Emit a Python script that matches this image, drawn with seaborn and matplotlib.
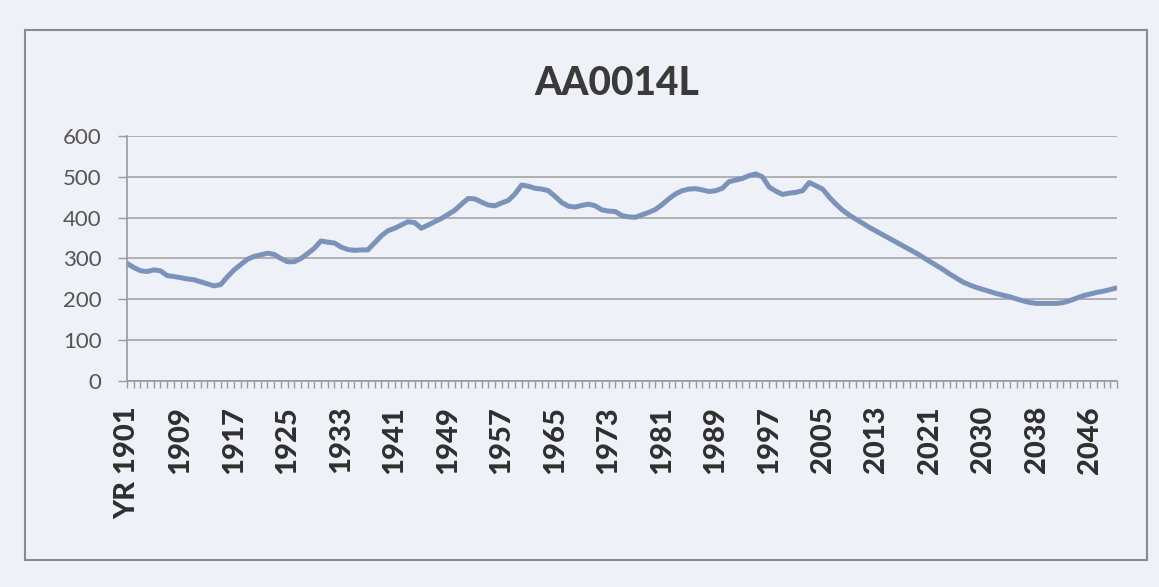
import matplotlib
matplotlib.use("Agg")
import matplotlib.pyplot as plt
from matplotlib.patches import Rectangle
import seaborn as sns
import pandas as pd

# Category labels (years); one year (2022) absent in the source chart
years = [f"{y}" for y in range(1901, 2022)] + [f"{y}" for y in range(2023, 2051)]
years[0] = "YR 1901"

values = [
    288, 278, 270, 268, 272, 270, 258, 256, 253, 250,
    248, 243, 238, 233, 236, 255, 272, 285, 298, 305,
    309, 313, 310, 300, 292, 292, 300, 312, 325, 343,
    340, 338, 328, 322, 320, 321, 321, 338, 355, 368,
    374, 382, 390, 388, 374, 382, 390, 398, 408, 418,
    433, 447, 446, 438, 431, 429, 436, 442, 458, 480,
    477, 472, 470, 466, 452, 437, 428, 426, 430, 433,
    429, 419, 416, 415, 405, 402, 401, 407, 413, 420,
    432, 446, 458, 466, 470, 471, 468, 464, 466, 472,
    488, 492, 496, 503, 507, 500, 475, 465, 457, 460,
    462, 466, 486, 478, 470, 450, 433, 418, 406, 396,
    386, 376, 367, 358, 349, 340, 331, 322, 313, 303,
    293, 283, 273, 262, 252, 242, 235, 229, 224, 219,
    214, 210, 206, 201, 196, 192, 190, 190, 190, 190,
    192, 197, 203, 209, 213, 217, 220, 224, 228,
]

title = "AA0014L"
y_ticks = [0, 100, 200, 300, 400, 500, 600]

df = pd.DataFrame({"pos": range(len(values)), "value": values, "year": years})

sns.set_theme(style="white")
plt.rcParams["font.family"] = ["Lato", "DejaVu Sans"]

bg = "#eff1f8"
fig = plt.figure(figsize=(11.59, 5.87), dpi=100, facecolor=bg)
ax = fig.add_axes([0.1096, 0.351, 0.9637 - 0.1096, 0.7683 - 0.351])
ax.set_facecolor(bg)

sns.lineplot(data=df, x="pos", y="value", ax=ax, color="#7b93bb", linewidth=3.6)

ax.set_xlim(0, len(values) - 1)
ax.set_ylim(0, 600)
ax.set_yticks(y_ticks)
ax.set_yticklabels([str(v) for v in y_ticks], fontsize=16, color="#555555")
ax.yaxis.grid(True, color="#a5a5a5", linewidth=1.2)
ax.set_axisbelow(True)

# every category gets a tick; label every 8th
ax.set_xticks(range(len(values)))
ax.set_xticklabels([years[i] if i % 8 == 0 else "" for i in range(len(values))],
                   rotation=90, fontsize=21, fontweight="black", color="#2f2f2f")
ax.tick_params(axis="x", direction="out", length=5, width=1, color="#9a9a9a", pad=13,
               bottom=True)
ax.tick_params(axis="y", direction="out", length=6.5, width=1, color="#9a9a9a", pad=12,
               left=True)

for s in ["top", "right"]:
    ax.spines[s].set_visible(False)
for s in ["left", "bottom"]:
    ax.spines[s].set_color("#9a9a9a")
    ax.spines[s].set_linewidth(1.2)

ax.set_xlabel("")
ax.set_ylabel("")

fig.text(0.532, 0.857, title, ha="center", va="center", fontsize=28,
         fontweight="black", color="#3a3a3a")

fig.patches.append(Rectangle((25 / 1159, 1 - 560 / 587), (1147 - 25) / 1159, (560 - 30) / 587,
                             transform=fig.transFigure, fill=False,
                             edgecolor="#8a8a8a", linewidth=1.5))

fig.savefig("out.png", dpi=100, facecolor=bg)
